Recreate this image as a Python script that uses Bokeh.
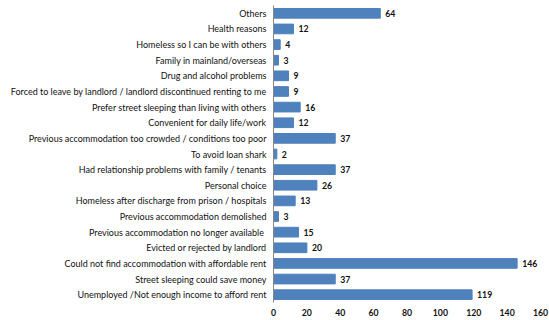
from bokeh.plotting import figure
from bokeh.models import ColumnDataSource, FactorRange, FixedTicker
from bokeh.embed import file_html
from bokeh.resources import INLINE

reasons = [
    "Others",
    "Health reasons",
    "Homeless so I can be with others",
    "Family in mainland/overseas",
    "Drug and alcohol problems",
    "Forced to leave by landlord / landlord discontinued renting to me",
    "Prefer street sleeping than living with others",
    "Convenient for daily life/work",
    "Previous accommodation too crowded / conditions too poor",
    "To avoid loan shark",
    "Had relationship problems with family / tenants",
    "Personal choice",
    "Homeless after discharge from prison / hospitals",
    "Previous accommodation demolished",
    "Previous accommodation  no longer available",
    "Evicted or rejected by landlord",
    "Could not find accommodation with affordable rent",
    "Street sleeping could save money",
    "Unemployed /Not enough income to afford rent",
]
counts = [64, 12, 4, 3, 9, 9, 16, 12, 37, 2, 37, 26, 13, 3, 15, 20, 146, 37, 119]
x_ticks = [0, 20, 40, 60, 80, 100, 120, 140, 160]

FONT = "Lato"
source = ColumnDataSource(dict(reason=reasons, count=counts,
                               label=[str(c) for c in counts]))

p = figure(width=549, height=320, output_backend="svg", toolbar_location=None,
           y_range=FactorRange(factors=list(reversed(reasons))),
           x_range=(0, 160),
           min_border_left=273, min_border_right=9,
           min_border_top=5, min_border_bottom=18)

p.hbar(y="reason", right="count", left=0, height=0.62, source=source,
       fill_color="#4F81BD", line_color="#4F81BD")
p.text(x="count", y="reason", text="label", source=source,
       x_offset=5, text_baseline="middle", text_align="left",
       text_font_size="8.7px", text_font_style="bold", text_color="#111111",
       text_font={"value": FONT})

p.outline_line_color = None
p.grid.visible = False
p.background_fill_color = "white"
p.border_fill_color = "white"

p.xaxis.ticker = FixedTicker(ticks=x_ticks)
p.xaxis.axis_line_color = None
p.xaxis.major_tick_line_color = None
p.xaxis.minor_tick_line_color = None
p.xaxis.major_tick_out = 0
p.xaxis.major_tick_in = 0
p.xaxis.major_label_text_font = FONT
p.xaxis.major_label_text_font_size = "8.7px"
p.xaxis.major_label_text_font_style = "bold"
p.xaxis.major_label_text_color = "#111111"
p.xaxis.major_label_standoff = 6

p.yaxis.axis_line_color = "#868686"
p.yaxis.major_tick_line_color = None
p.yaxis.minor_tick_line_color = None
p.yaxis.major_tick_out = 0
p.yaxis.major_tick_in = 0
p.yaxis.major_label_text_font = FONT
p.yaxis.major_label_text_font_size = "9px"
p.yaxis.major_label_text_color = "#111111"
p.yaxis.major_label_standoff = 7

open("out.html", "w").write(file_html(p, INLINE))
